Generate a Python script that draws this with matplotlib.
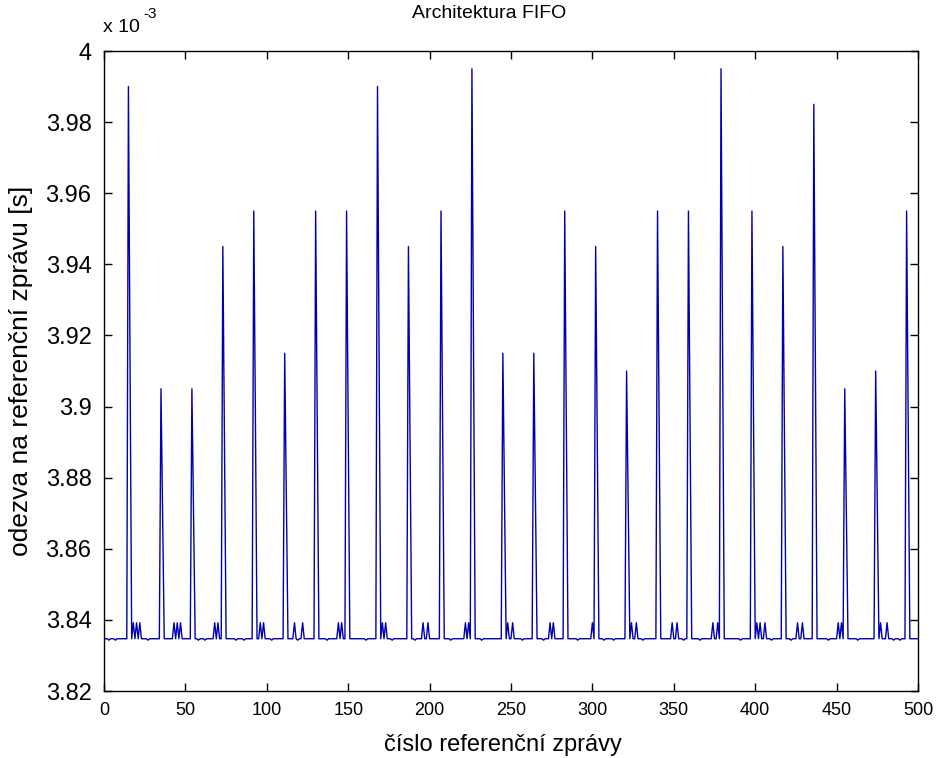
import numpy as np
import matplotlib
matplotlib.use("Agg")
import matplotlib.pyplot as plt

plt.rcParams['font.family'] = ['Liberation Sans', 'DejaVu Sans']

# values in units of 1e-3 s
n_messages = 500
baseline = 3.8347
dip_level = 3.8343
bump_level = 3.8392

peak_idx = [15, 35, 54, 73, 92, 111, 130, 149, 168, 187, 207, 226, 245, 264, 283,
            302, 321, 340, 359, 379, 398, 417, 436, 455, 474, 493]
peak_val = [3.990, 3.905, 3.905, 3.945, 3.955, 3.915, 3.955, 3.955, 3.990, 3.945,
            3.955, 3.995, 3.915, 3.915, 3.955, 3.945, 3.910, 3.955, 3.955, 3.995,
            3.955, 3.945, 3.985, 3.905, 3.910, 3.955]
second_val = [3.912, 3.869, 3.869, 3.891, 3.897, 3.874, 3.894, 3.894, 3.912, 3.890,
              3.894, 3.915, 3.874, 3.874, 3.894, 3.890, 3.872, 3.895, 3.894, 3.915,
              3.894, 3.890, 3.910, 3.871, 3.872, 3.895]
bump_idx = [18, 20, 22, 43, 45, 47, 68, 70, 96, 98, 117, 122, 144, 146, 171, 173,
            196, 199, 222, 224, 248, 251, 274, 276, 300, 324, 327, 349, 352, 374,
            377, 401, 403, 406, 426, 429, 451, 453, 477, 481]
dip_idx = [3, 7, 27, 58, 62, 81, 86, 103, 119, 137, 161, 177, 191, 213, 232, 257,
           270, 291, 307, 313, 331, 356, 366, 391, 410, 422, 445, 463, 485, 489]

x = np.arange(1, n_messages + 1)
y = np.full(n_messages, baseline)
for i in dip_idx:
    y[i - 1] = dip_level
for i in bump_idx:
    y[i - 1] = bump_level
for i, p, s in zip(peak_idx, peak_val, second_val):
    y[i - 1] = p
    y[i] = s

W, H = 938, 758
L, R, T, B = 104, 918, 51, 691
fig = plt.figure(figsize=(W / 100, H / 100), dpi=100)
ax = fig.add_axes([L / W, 1 - B / H, (R - L) / W, (B - T) / H])
ax.plot(x, y, color='#0000b0', linewidth=1.0)

ax.set_xlim(0, 500)
ax.set_ylim(3.82, 4.0)
xt = [0, 50, 100, 150, 200, 250, 300, 350, 400, 450, 500]
yt = [3.82, 3.84, 3.86, 3.88, 3.90, 3.92, 3.94, 3.96, 3.98, 4.00]
ax.set_xticks(xt)
ax.set_xticklabels([str(v) for v in xt])
ax.set_yticks(yt)
ax.set_yticklabels(['%g' % v for v in yt])
ax.tick_params(direction='in', length=6, width=1, top=True, right=True,
               colors='black')
ax.tick_params(axis='y', labelsize=17, pad=9)
ax.tick_params(axis='x', labelsize=13, pad=8)
for s in ax.spines.values():
    s.set_linewidth(1.0)
    s.set_color('black')

ax.set_xlabel('číslo referenční zprávy', fontsize=17, va='center')
ax.xaxis.set_label_coords(0.49, (B - 745) / (B - T))
ax.set_ylabel('odezva na referenční zprávu [s]', fontsize=19, va='center')
ax.yaxis.set_label_coords((21 - L) / (R - L), 0.5)
fig.text(489 / W, 1 - 14 / H, 'Architektura FIFO', fontsize=14,
         ha='center', va='center')

fig.text(103 / W, 1 - 32 / H, 'x 10', fontsize=14, ha='left', va='baseline')
fig.text(143 / W, 1 - 18 / H, '-3', fontsize=11, ha='left', va='baseline')

fig.savefig('out.png', dpi=100, facecolor='white')
